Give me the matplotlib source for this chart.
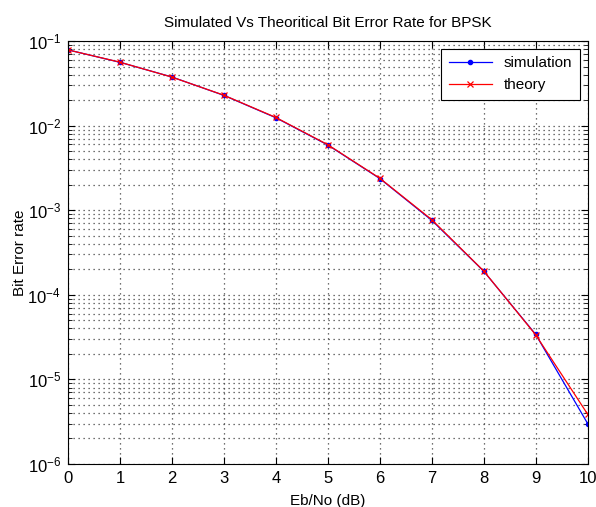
import matplotlib
matplotlib.use("Agg")
import matplotlib.pyplot as plt
from matplotlib.ticker import LogLocator, NullFormatter

plt.rcParams['font.family'] = ['Liberation Sans', 'DejaVu Sans']

ebno_db = [0, 1, 2, 3, 4, 5, 6, 7, 8, 9, 10]
ber_sim = [0.0787, 0.0561, 0.0376, 0.0228, 0.0124, 0.0059, 0.00237, 7.6e-4, 1.9e-4, 3.4e-5, 3.0e-6]
ber_theory = [0.0786, 0.0563, 0.0375, 0.0229, 0.0125, 0.00595, 0.00239, 7.73e-4, 1.91e-4, 3.36e-5, 3.87e-6]
x_ticks = [0, 1, 2, 3, 4, 5, 6, 7, 8, 9, 10]

fig = plt.figure(figsize=(5.96, 5.07), dpi=100)
ax = fig.add_axes([0.114, 0.085, 0.872, 0.834])

ax.semilogy(ebno_db, ber_sim, color='#0000ff', marker='.', markersize=6, linewidth=0.9, label='simulation')
ax.semilogy(ebno_db, ber_theory, color='#ff0000', marker='x', markersize=4, markeredgewidth=0.9, linewidth=0.9, label='theory')

ax.set_xlim(0, 10)
ax.set_ylim(1e-6, 1e-1)
ax.set_xticks(x_ticks)
ax.yaxis.set_major_locator(LogLocator(base=10, numticks=10))
ax.yaxis.set_minor_locator(LogLocator(base=10, subs=range(2, 10), numticks=20))
ax.yaxis.set_minor_formatter(NullFormatter())

ax.grid(True, which='major', axis='both', linestyle=(0, (1, 3)), color='#444444', linewidth=0.9)
ax.grid(True, which='minor', axis='y', linestyle=(0, (1, 3)), color='#444444', linewidth=0.9)

ax.tick_params(which='both', direction='in', top=True, right=True, labelsize=12)
ax.tick_params(which='major', length=5, pad=5)
ax.tick_params(which='minor', length=3)
for s in ax.spines.values():
    s.set_linewidth(0.8)

ax.set_title('Simulated Vs Theoritical Bit Error Rate for BPSK', fontsize=11, pad=10)
ax.set_xlabel('Eb/No (dB)', fontsize=11, labelpad=6)
ax.set_ylabel('Bit Error rate', fontsize=11, labelpad=0)

leg = ax.legend(loc='upper right', fontsize=11, fancybox=False, edgecolor='black',
                framealpha=1, borderpad=0.5, handlelength=2.8, borderaxespad=0.5)
leg.get_frame().set_linewidth(0.8)

fig.savefig('out.png', dpi=100)
